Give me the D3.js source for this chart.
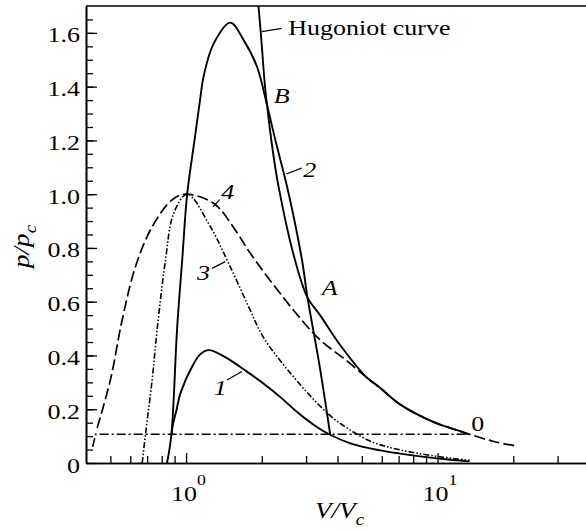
<!DOCTYPE html>
<html>
<head>
<meta charset="utf-8">
<script src="https://cdn.jsdelivr.net/npm/d3@7"></script>
<style>
  body { margin: 0; background: #fff; }
  svg { display: block; }
  text { font-family: "Liberation Serif", "Times New Roman", serif; fill: #000; }
</style>
</head>
<body>
<div id="chart"></div>
<script>
// values, each point is [V/Vc, p/pc]
const curve0 = [[0.425, 0.06], [0.437, 0.107], [13.2, 0.107]];
const curve1 = [[0.876, 0.105], [0.885, 0.14], [0.915, 0.195], [0.95, 0.26], [1.056, 0.358], [1.14, 0.405],
  [1.23, 0.42], [1.43, 0.394], [1.746, 0.34], [2.0, 0.30], [2.37, 0.245], [2.8, 0.185], [3.3, 0.135],
  [3.74, 0.105], [4.5, 0.073], [5.9, 0.047], [7.09, 0.035], [9.0, 0.022], [11, 0.013], [13.4, 0.006]];
const curve2 = [[0.84, 0], [0.874, 0.105], [0.921, 0.5], [0.966, 0.76], [1.01, 1.0], [1.08, 1.2], [1.14, 1.36],
  [1.175, 1.44], [1.287, 1.56], [1.5, 1.638], [1.692, 1.574], [1.913, 1.475], [2.10, 1.33], [2.28, 1.19],
  [2.53, 1.022], [2.89, 0.755], [3.04, 0.615], [3.39, 0.365], [3.74, 0.107]];
const curve3 = [[0.669, 0], [0.689, 0.104], [0.733, 0.309], [0.767, 0.495], [0.828, 0.755], [0.893, 0.929],
  [1.01, 1.0], [1.249, 0.879], [1.476, 0.743], [1.772, 0.582], [2.026, 0.469], [2.595, 0.335], [3.64, 0.186],
  [4.4, 0.128], [5.5, 0.078], [7.0, 0.05], [10.2, 0.023], [13.4, 0.01]];
const curve4 = [[0.443, 0.13], [0.50, 0.309], [0.557, 0.532], [0.629, 0.73], [0.733, 0.879], [0.88, 0.979],
  [0.994, 1.0], [1.287, 0.966], [1.569, 0.867], [1.8, 0.78], [2.67, 0.569], [3.41, 0.458], [4.36, 0.38],
  [5.23, 0.318], [5.9, 0.28], [7.09, 0.218], [9.6, 0.153], [12.6, 0.115], [16.6, 0.081], [20.6, 0.063]];
const hugoniot = [[1.91, 1.78], [1.94, 1.70], [1.98, 1.605], [2.06, 1.40], [2.10, 1.33], [2.19, 1.19],
  [2.33, 1.03], [2.71, 0.755], [3.04, 0.615], [3.41, 0.55], [4.09, 0.44], [5.23, 0.318], [5.9, 0.28],
  [7.09, 0.218], [9.6, 0.153], [12.6, 0.115], [13.2, 0.107]];

const yMajorTicks = [0, 0.2, 0.4, 0.6, 0.8, 1.0, 1.2, 1.4, 1.6];
const yTickLabels = ["0", "0.2", "0.4", "0.6", "0.8", "1.0", "1.2", "1.4", "1.6"];
const yMinorTicks = d3.range(0.05, 1.7, 0.05);
const xMajorTicks = [1, 10];
const xTickExps = ["0", "1"];
const xMinorTicks = [0.5, 0.6, 0.7, 0.8, 0.9, 2, 3, 4, 5, 6, 7, 8, 9, 20, 30];

// labels placed in data units
const curveLabels = [
  { text: "1", v: 1.287, p: 0.253, italic: true, lead: [[1.454, 0.309], [1.668, 0.340]] },
  { text: "3", v: 1.106, p: 0.681, italic: true, lead: [[1.268, 0.724], [1.432, 0.749]] },
  { text: "4", v: 1.38, p: 0.982, italic: true, lead: [[1.28, 0.953], [1.36, 0.98]] },
  { text: "2", v: 2.92, p: 1.065, italic: true, lead: [[2.5, 1.075], [2.88, 1.097]] },
  { text: "B", v: 2.23, p: 1.338, italic: true, lead: null },
  { text: "A", v: 3.46, p: 0.625, italic: true, lead: null },
  { text: "0", v: 13.6, p: 0.12, italic: false, lead: null },
  { text: "Hugoniot curve", v: 2.55, p: 1.593, italic: false, lead: [[2.0, 1.605], [2.40, 1.617]] }
];

const width = 586, height = 531;
const STRETCH = 1.18;
const FONT = 22;

const svg = d3.select("#chart").append("svg")
  .attr("width", width)
  .attr("height", height);

const x = d3.scaleLog().domain([0.4, 40]).range([86, 589]);
const y = d3.scaleLinear().domain([0, 1.7]).range([463, 6]);

svg.append("clipPath").attr("id", "plot")
  .append("rect")
  .attr("x", x.range()[0]).attr("y", y.range()[1])
  .attr("width", x.range()[1] - x.range()[0])
  .attr("height", y.range()[0] - y.range()[1]);

// stretched text, the figure's font is wider than Times
function addText(parent, px, py, size, anchor) {
  return parent.append("text")
    .attr("transform", `translate(${px},${py}) scale(${STRETCH},1)`)
    .attr("font-size", size)
    .attr("text-anchor", anchor || "start");
}

// axes, ticks point inward
const axisG = svg.append("g");

axisG.append("g")
  .attr("transform", `translate(0,${y(0)})`)
  .call(d3.axisBottom(x).tickValues(xMinorTicks).tickSize(-7).tickSizeOuter(0).tickFormat(""));
axisG.append("g")
  .attr("transform", `translate(0,${y(0)})`)
  .call(d3.axisBottom(x).tickValues(xMajorTicks).tickSize(-10).tickSizeOuter(0).tickFormat(""));
axisG.append("g")
  .attr("transform", `translate(${x(0.4)},0)`)
  .call(d3.axisLeft(y).tickValues(yMinorTicks).tickSize(-7).tickSizeOuter(0).tickFormat(""));
axisG.append("g")
  .attr("transform", `translate(${x(0.4)},0)`)
  .call(d3.axisLeft(y).tickValues(yMajorTicks).tickSize(-11).tickSizeOuter(0).tickFormat(""));

axisG.selectAll("path.domain").attr("stroke", "#000").attr("stroke-width", 1.6);
axisG.selectAll(".tick line").attr("stroke", "#000").attr("stroke-width", 1.3);

// top frame line
svg.append("line")
  .attr("x1", x(0.4)).attr("x2", x(40))
  .attr("y1", y(1.7)).attr("y2", y(1.7))
  .attr("stroke", "#000").attr("stroke-width", 1.6);

// tick labels
yMajorTicks.forEach((t, i) => {
  addText(svg, 80, y(t) + 9.5, FONT, "end").text(yTickLabels[i]);
});
xMajorTicks.forEach((t, i) => {
  const tx = addText(svg, x(t) - 15, 501, FONT, "start");
  tx.append("tspan").text("10");
  tx.append("tspan").attr("font-size", 15).attr("dy", -16).text(xTickExps[i]);
});

// axis titles
const xt = addText(svg, 315, 518, FONT + 1, "start").attr("font-style", "italic");
xt.append("tspan").text("V/V");
xt.append("tspan").attr("font-size", 16).attr("dy", 7).text("c");

const yt = svg.append("text")
  .attr("transform", `translate(29,268) rotate(-90) scale(${STRETCH},1)`)
  .attr("font-size", FONT + 1)
  .attr("font-style", "italic");
yt.append("tspan").text("p/p");
yt.append("tspan").attr("font-size", 16).attr("dy", 7).text("c");

// curves
const line = d3.line()
  .x(d => x(d[0]))
  .y(d => y(d[1]))
  .curve(d3.curveCatmullRom.alpha(0.5));

const series = [
  { data: curve0, dash: "9,3,2,3", w: 1.6, linear: true },
  { data: curve1, dash: null, w: 1.9 },
  { data: curve2, dash: null, w: 1.9 },
  { data: curve3, dash: "6,2,1.5,2,1.5,2", w: 1.6 },
  { data: curve4, dash: "11,4", w: 1.7 },
  { data: hugoniot, dash: null, w: 1.9 }
];

const plot = svg.append("g").attr("clip-path", "url(#plot)");
series.forEach(s => {
  plot.append("path")
    .attr("d", s.linear ? d3.line().x(d => x(d[0])).y(d => y(d[1]))(s.data) : line(s.data))
    .attr("fill", "none")
    .attr("stroke", "#000")
    .attr("stroke-width", s.w)
    .attr("stroke-dasharray", s.dash);
});

// labels and their leader lines
curveLabels.forEach(l => {
  if (l.lead) {
    svg.append("line")
      .attr("x1", x(l.lead[0][0])).attr("y1", y(l.lead[0][1]))
      .attr("x2", x(l.lead[1][0])).attr("y2", y(l.lead[1][1]))
      .attr("stroke", "#000").attr("stroke-width", 1.2);
  }
  addText(svg, x(l.v), y(l.p), FONT, "start")
    .attr("font-style", l.italic ? "italic" : "normal")
    .text(l.text);
});
</script>
</body>
</html>
